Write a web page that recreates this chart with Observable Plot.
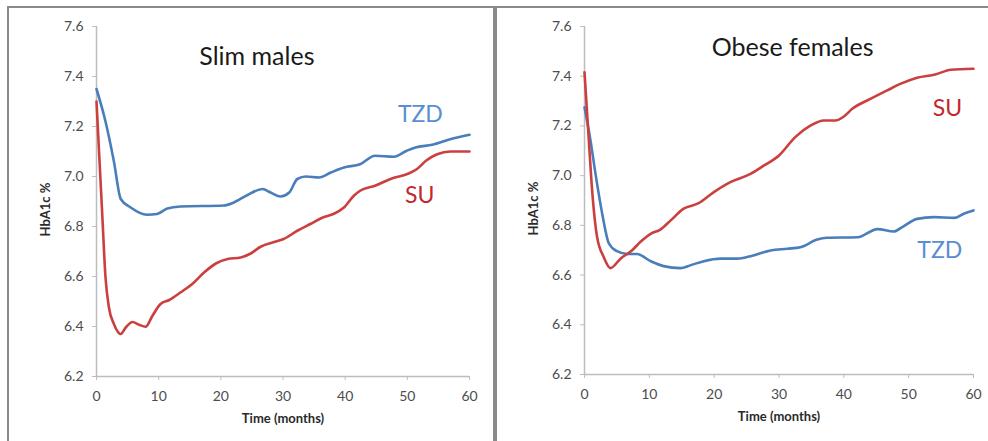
<!DOCTYPE html>
<html>
<head>
<meta charset="utf-8">
<script src="https://cdn.jsdelivr.net/npm/d3@7"></script>
<script src="https://cdn.jsdelivr.net/npm/@observablehq/plot@0.6"></script>
<style>
  html, body { margin: 0; padding: 0; background: #fff; width: 988px; height: 441px; overflow: hidden; }
  body { position: relative; font-family: Lato, "Open Sans", sans-serif; }
  .panel { position: absolute; border: 2px solid #8a8a8a; box-sizing: border-box; }
  #boxLeft { left: 7px; top: 6px; width: 488px; height: 470px; }
  #boxRight { left: 495px; top: 6px; width: 520px; height: 470px; }
  .chart { position: absolute; top: 7px; }
  #left { left: 8px; }
  #right { left: 496px; }
</style>
</head>
<body>
<div class="panel" id="boxLeft"></div>
<div class="panel" id="boxRight"></div>
<div class="chart" id="left"></div>
<div class="chart" id="right"></div>
<script>
// Mean HbA1c (%) over time since starting therapy, by drug class.
const xTicks = [0, 10, 20, 30, 40, 50, 60];
const yTicks = [6.2, 6.4, 6.6, 6.8, 7.0, 7.2, 7.4, 7.6];
const seriesNames = ["TZD", "SU"];
const panelTitles = ["Slim males", "Obese females"];

// Slim males
const slimTZDMonths = [0, 1.45, 2.8, 3.9, 5.5, 8.1, 9.75, 11.4, 13.5, 20.5, 22, 24.3, 26.7, 28, 29.6, 31, 32.3, 33.7, 35.8, 37.7, 39.8, 42.4, 44.8, 47.8, 49.9, 51.3, 54, 56.9, 60];
const slimTZD = [7.35, 7.22, 7.06, 6.91, 6.876, 6.847, 6.85, 6.872, 6.88, 6.884, 6.895, 6.926, 6.95, 6.936, 6.92, 6.936, 6.99, 7.0, 6.996, 7.016, 7.036, 7.049, 7.083, 7.079, 7.103, 7.116, 7.127, 7.149, 7.167];
const slimSUMonths = [0, 0.9, 1.45, 2.0, 2.8, 3.9, 4.7, 5.8, 6.85, 7.9, 9.0, 10.3, 11.7, 13.5, 15.4, 17.3, 19.2, 21.1, 23.2, 24.8, 26.4, 28.3, 30.1, 32.3, 34.4, 36.6, 38.1, 39.8, 41.4, 42.4, 44.8, 47.5, 50.2, 51.5, 53.1, 54.8, 56.9, 60];
const slimSU = [7.30, 6.86, 6.596, 6.476, 6.41, 6.37, 6.396, 6.418, 6.407, 6.399, 6.443, 6.49, 6.506, 6.536, 6.57, 6.616, 6.652, 6.67, 6.676, 6.692, 6.719, 6.736, 6.75, 6.783, 6.81, 6.838, 6.85, 6.876, 6.923, 6.943, 6.963, 6.992, 7.012, 7.029, 7.065, 7.089, 7.1, 7.1];

// Obese females
const obeseTZDMonths = [0, 0.93, 1.7, 2.73, 3.75, 5.0, 6.6, 8.1, 10.2, 12.2, 14.8, 16.3, 18.4, 21, 23.6, 25.6, 28.7, 31.3, 33.3, 35.9, 37.4, 42.1, 45.2, 47.7, 49, 51.3, 53.9, 57, 58.5, 60];
const obeseTZD = [7.275, 7.141, 7.007, 6.847, 6.728, 6.696, 6.685, 6.685, 6.656, 6.636, 6.628, 6.639, 6.656, 6.666, 6.666, 6.676, 6.699, 6.706, 6.712, 6.743, 6.75, 6.752, 6.785, 6.775, 6.793, 6.826, 6.833, 6.83, 6.847, 6.86];
const obeseSUMonths = [0, 0.67, 1.18, 1.95, 2.98, 4.0, 5.55, 7.35, 8.6, 10.2, 11.7, 13.3, 15.3, 17.6, 19.9, 22.5, 25.6, 27.7, 30, 32.5, 34.9, 36.9, 38.7, 40, 41.3, 44.1, 46.7, 48.8, 51.3, 54.1, 56.5, 60];
const obeseSU = [7.416, 7.141, 6.94, 6.752, 6.672, 6.628, 6.666, 6.7, 6.733, 6.766, 6.783, 6.82, 6.867, 6.889, 6.933, 6.974, 7.007, 7.041, 7.081, 7.155, 7.202, 7.222, 7.222, 7.238, 7.269, 7.309, 7.343, 7.37, 7.394, 7.407, 7.426, 7.43];

const lineColor = { TZD: "#4a7ebb", SU: "#cc3f3f" };
const labelColor = { TZD: "#5a8ed2", SU: "#c1272d" };
const font = "Lato, 'Open Sans', sans-serif";

const rows = (months, values, series) => months.map((m, i) => ({ month: m, hba1c: values[i], series }));

function panel({ title, titleAt, tzd, su, tzdAt, suAt, width, marginRight, marginBottom }) {
  const data = [...tzd, ...su];
  return Plot.plot({
    width,
    height: 434,
    marginLeft: 88,
    marginRight,
    marginTop: 19,
    marginBottom,
    style: { fontFamily: font, background: "transparent", overflow: "visible" },
    x: { domain: [0, 60] },
    y: { domain: [6.2, 7.6] },
    marks: [
      Plot.ruleX([0], { stroke: "#bdbdbd", strokeWidth: 1.5 }),
      Plot.ruleY([6.2], { stroke: "#bdbdbd", strokeWidth: 1.5 }),
      Plot.axisY(yTicks, {
        tickSize: 4, tickPadding: 9, tickFormat: d3.format(".1f"),
        stroke: "#bdbdbd", fill: "#4d4d4d", fontSize: 14, label: null
      }),
      Plot.axisX(xTicks, {
        tickSize: 4, tickPadding: 11,
        stroke: "#bdbdbd", fill: "#4d4d4d", fontSize: 14, label: null
      }),
      Plot.text(["HbA1c %"], {
        frameAnchor: "left", rotate: -90, dx: -51, dy: 8,
        textAnchor: "middle", lineAnchor: "middle",
        fontSize: 13, fontWeight: "bold", fill: "#2a2a2a"
      }),
      Plot.text(["Time (months)"], {
        frameAnchor: "bottom", dy: 42, lineAnchor: "middle",
        fontSize: 13, fontWeight: "bold", fill: "#2a2a2a"
      }),
      Plot.line(data, {
        x: "month", y: "hba1c", z: "series",
        stroke: d => lineColor[d.series],
        strokeWidth: 2.6, curve: "monotone-x"
      }),
      Plot.text([title], { x: titleAt[0], y: titleAt[1], fontSize: 25, fill: "#1a1a1a" }),
      Plot.text([seriesNames[0]], { x: tzdAt[0], y: tzdAt[1], fontSize: 23, fill: labelColor.TZD }),
      Plot.text([seriesNames[1]], { x: suAt[0], y: suAt[1], fontSize: 23, fill: labelColor.SU })
    ]
  });
}

document.getElementById("left").append(panel({
  title: panelTitles[0], titleAt: [25.8, 7.48],
  tzd: rows(slimTZDMonths, slimTZD, "TZD"),
  su: rows(slimSUMonths, slimSU, "SU"),
  tzdAt: [52.1, 7.247], suAt: [52.0, 6.923],
  width: 485, marginRight: 24, marginBottom: 65
}));

document.getElementById("right").append(panel({
  title: panelTitles[1], titleAt: [32.1, 7.515],
  tzd: rows(obeseTZDMonths, obeseTZD, "TZD"),
  su: rows(obeseSUMonths, obeseSU, "SU"),
  tzdAt: [54.8, 6.70], suAt: [56.0, 7.27],
  width: 492, marginRight: 15, marginBottom: 67
}));
</script>
</body>
</html>
